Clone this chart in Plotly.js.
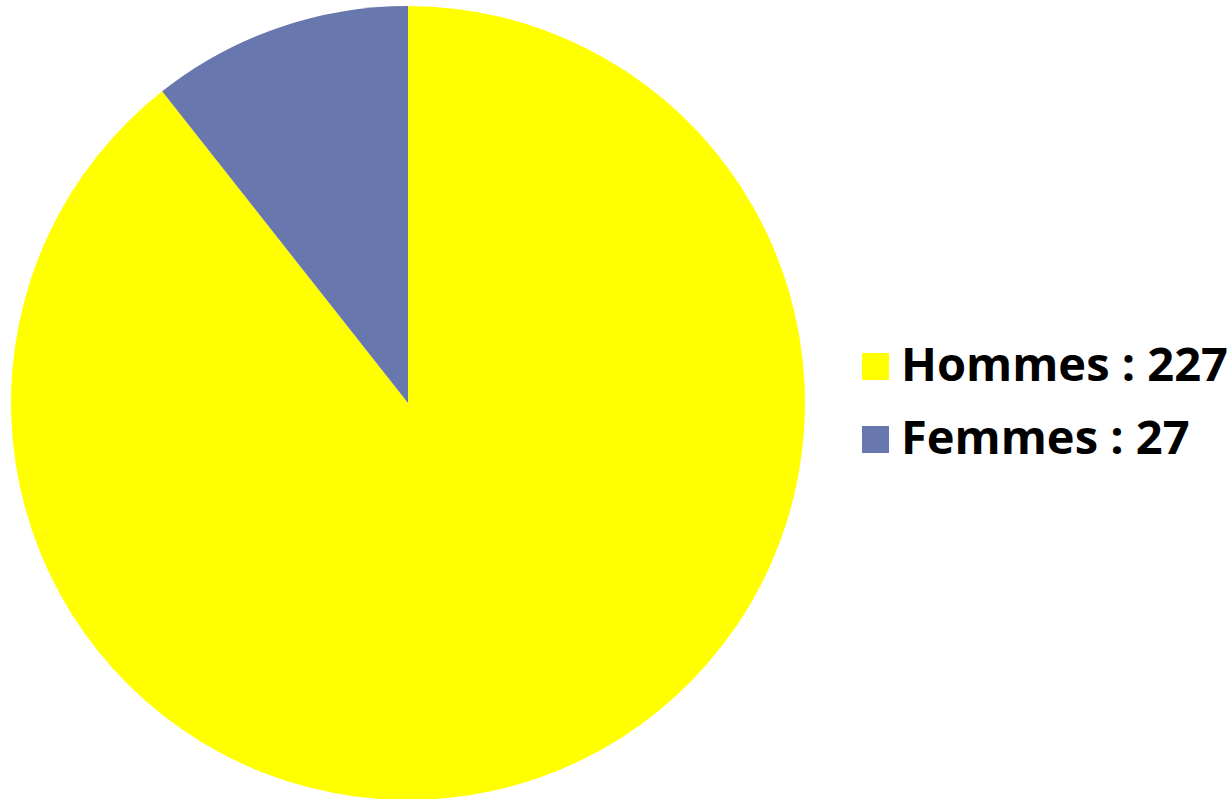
<!DOCTYPE html>
<html><head><meta charset="utf-8">
<script src="https://cdn.plot.ly/plotly-3.0.1.min.js"></script>
<style>html,body{margin:0;padding:0;overflow:hidden;background:#fff}</style>
</head><body>
<div id="chart" style="width:1231px;height:806px"></div>
<script>
const labels = ["Hommes", "Femmes"];
const values = [227, 27];
const colors = ["#FFFF00", "#6878AE"];

const W = 1231, H = 806, MT = 6, MB = 6;
const PH = H - MT - MB;
const px = x => x / W;
const py = y => (H - MB - y) / PH;

const legendTop = [353, 426];
const shapes = [], annotations = [];
labels.forEach((l, i) => {
  const y0 = legendTop[i];
  shapes.push({type: 'rect', xref: 'paper', yref: 'paper',
    x0: px(862), x1: px(889), y0: py(y0 + 27), y1: py(y0),
    fillcolor: colors[i], line: {width: 0}});
  annotations.push({xref: 'paper', yref: 'paper', x: px(899), y: py(y0 + 10),
    xanchor: 'left', yanchor: 'middle', showarrow: false,
    text: '<b>' + l + ' : ' + values[i] + '</b>',
    font: {family: '"Open Sans", sans-serif', size: 47, color: '#000'}});
});

Plotly.newPlot('chart', [{
  type: 'pie', labels: labels, values: values, sort: false,
  direction: 'clockwise', rotation: 0, textinfo: 'none', hoverinfo: 'label+value',
  marker: {colors: colors, line: {width: 0}},
  domain: {x: [px(11), px(805)], y: [0, 1]}
}], {
  width: W, height: H, showlegend: false,
  margin: {l: 0, r: 0, t: MT, b: MB},
  paper_bgcolor: '#fff', shapes: shapes, annotations: annotations
}, {displayModeBar: false, staticPlot: true});
</script>
</body></html>
